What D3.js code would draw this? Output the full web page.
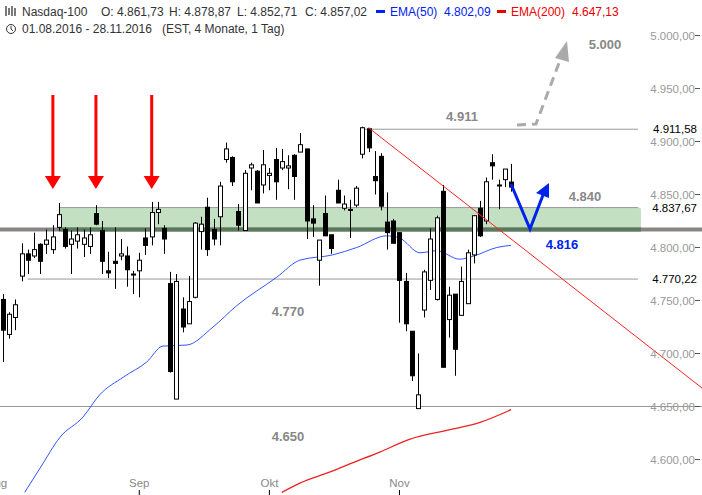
<!DOCTYPE html>
<html><head><meta charset="utf-8">
<script src="https://cdn.jsdelivr.net/npm/d3@7"></script>
<style>body{margin:0;background:#fff}svg{display:block;font-family:"Liberation Sans",Arial,sans-serif}</style>
</head><body><svg id="c" width="702" height="495"></svg>
<script>
// OHLC per trading day (01.08.2016 - 28.11.2016)
const opens=[4751,4718,4734,4773,4794,4792,4803,4803,4798,4819,4817,4803,4806,4803,4801,4832,4816,4778,4787,4792,4792,4775,4778,4809,4810,4833,4818,4766,4657,4742,4728,4753,4815,4838,4817,4829,4883,4885,4834,4816,4875,4872,4859,4868,4883,4875,4875,4887,4890,4893,4827,4788,4832,4812,4854,4837,4836,4840,4888,4912,4867,4886,4824,4825,4814,4768,4721,4648,4741,4769,4751,4853,4732,4756,4736,4747,4793,4837,4825,4880,4859,4864,4861.73];
const highs=[4756,4739,4751,4804,4798,4814,4804,4817,4821,4842,4819,4816,4819,4817,4819,4840,4825,4796,4819,4808,4801,4778,4795,4818,4843,4843,4821,4777,4775,4753,4773,4824,4829,4847,4827,4862,4899,4886,4841,4873,4880,4873,4892,4875,4894,4893,4887,4888,4908,4893,4840,4807,4849,4812,4864,4849,4845,4858,4914,4913,4891,4889,4852,4827,4814,4776,4721,4700,4779,4818,4830,4859,4763,4756,4782,4798,4830,4844,4866,4888,4864,4874,4878.87];
const lows=[4692,4714,4722,4768,4775,4790,4775,4794,4794,4816,4799,4775,4799,4791,4794,4821,4775,4771,4761,4788,4763,4756,4753,4793,4802,4822,4794,4682,4657,4720,4728,4752,4798,4792,4802,4802,4880,4858,4816,4816,4854,4842,4851,4854,4845,4873,4855,4845,4890,4808,4810,4764,4811,4794,4842,4835,4809,4838,4884,4890,4850,4835,4798,4804,4729,4721,4674,4648,4734,4760,4750,4687,4715,4679,4736,4747,4785,4810,4822,4864,4836,4857,4852.71];
const closes=[4722,4737,4746,4794,4788,4798,4787,4807,4810,4831,4801,4808,4812,4809,4812,4822,4787,4776,4785,4794,4779,4774,4788,4802,4833,4836,4808,4683,4768,4725,4749,4823,4822,4798,4808,4858,4893,4862,4821,4870,4878,4842,4878,4870,4862,4881,4877,4867,4897,4825,4823,4807,4811,4799,4842,4841,4835,4856,4913,4894,4863,4839,4814,4804,4769,4728,4679,4661,4777,4808,4828,4687,4755,4704,4768,4795,4830,4811,4862,4877,4858,4874,4857.02];
// EMA lines: [trading-day index, value]
const ema50=[[3.5,4569],[6,4592],[9.2,4621],[12.9,4640],[15.6,4661],[19.5,4678],[23.2,4692],[25.8,4707],[29.7,4708],[33.9,4725],[37.7,4745],[44.2,4772],[47.9,4788],[53.2,4793],[57.1,4800],[61.9,4811],[64,4809],[67.3,4795],[70,4797],[73.7,4789],[76,4792],[79.7,4800],[82,4802]];
const ema200=[[45,4569],[48,4578],[52.7,4588],[56.5,4597],[60.8,4607],[65.6,4619],[72,4628],[77,4635],[82,4647]];
const monthLabels=["ug","Sep","Okt","Nov"];
const monthIdx=[-0.35,22,43,64];
const yTicks=[5000,4950,4900,4850,4800,4750,4700,4650,4600];
const levels=[4911.58,4837.67,4770.22];

const svg=d3.select("#c");
const x=d3.scaleLinear().domain([0,82]).range([3,511]);
const y=d3.scaleLinear().domain([4600,5000]).range([459.5,35.5]);
const fmt=v=>d3.format(",.2f")(v).replace(/,/g,"#").replace(".",",").replace(/#/g,".");

svg.append("rect").attr("x",x(9)).attr("y",y(4837.67)).attr("width",641-x(9)).attr("height",y(4817)-y(4837.67))
 .attr("fill","#c3e0c3").attr("rx",2);
svg.append("line").attr("x1",x(9)).attr("x2",638).attr("y1",y(4837.67)).attr("y2",y(4837.67)).attr("stroke","#999");
svg.append("line").attr("x1",x(58)).attr("x2",638).attr("y1",y(4911.58)).attr("y2",y(4911.58)).attr("stroke","#999");
svg.append("line").attr("x1",x(4)).attr("x2",638).attr("y1",y(4770.22)).attr("y2",y(4770.22)).attr("stroke","#999");
svg.append("line").attr("x1",0).attr("x2",702).attr("y1",y(4650)).attr("y2",y(4650)).attr("stroke","#999");
svg.append("line").attr("x1",0).attr("x2",702).attr("y1",y(4817)).attr("y2",y(4817)).attr("stroke","#8a8585").attr("stroke-width",4);
svg.append("line").attr("x1",x(9)).attr("x2",641).attr("y1",y(4817)).attr("y2",y(4817)).attr("stroke","#5b7a5b").attr("stroke-width",4);

const ln=d3.line().x(d=>x(d[0])).y(d=>y(d[1])).curve(d3.curveMonotoneX);
svg.append("path").attr("d",ln(ema50)).attr("fill","none").attr("stroke","#3355ff").attr("stroke-width",1);
svg.append("path").attr("d",ln(ema200)).attr("fill","none").attr("stroke","#ee2222").attr("stroke-width",1.3);

const g=svg.append("g");
opens.forEach((o,i)=>{
  const c=closes[i],cx=Math.round(x(i))+0.5;
  g.append("line").attr("x1",cx).attr("x2",cx).attr("y1",y(highs[i])).attr("y2",y(lows[i])).attr("stroke","#000");
  const t=y(Math.max(o,c)),b=y(Math.min(o,c));
  g.append("rect").attr("x",cx-2).attr("y",t).attr("width",4).attr("height",Math.max(1,b-t))
   .attr("fill",c>=o?"#fff":"#000").attr("stroke","#000").attr("stroke-width",1);
});

svg.append("line").attr("x1",x(59)).attr("y1",y(4913)).attr("x2",702).attr("y2",388).attr("stroke","#ff2020").attr("stroke-width",1);

[8.05,15,24].forEach(i=>{
  const ax=x(i);
  svg.append("line").attr("x1",ax).attr("x2",ax).attr("y1",95).attr("y2",177).attr("stroke","#f00").attr("stroke-width",3);
  svg.append("path").attr("d",`M${ax-8},176L${ax+8},176L${ax},189Z`).attr("fill","#f00");
});
svg.append("path").attr("d","M517,125L536,124L562,55").attr("fill","none").attr("stroke","#aaa").attr("stroke-width",3).attr("stroke-dasharray","9,6");
svg.append("path").attr("d","M567,41L555,58L569,62Z").attr("fill","#aaa");
svg.append("path").attr("d","M511,184L530,229L543,195").attr("fill","none").attr("stroke","#0022ee").attr("stroke-width",3);
svg.append("path").attr("d","M549,183L536,193L549,198Z").attr("fill","#0022ee");

const ann=[["4.911",462,121,"#888"],["4.840",585,201,"#888"],["4.770",288,316,"#888"],["4.650",288,441,"#888"],["5.000",605,49,"#888"],["4.816",562,249,"#0022ee"]];
ann.forEach(a=>svg.append("text").attr("x",a[1]).attr("y",a[2]).attr("text-anchor","middle").attr("font-size",13).attr("font-weight","bold").attr("fill",a[3]).text(a[0]));

yTicks.forEach(v=>{
  svg.append("text").attr("x",695).attr("y",y(v)+4).attr("text-anchor","end").attr("font-size",11.5).attr("fill","#999").text(fmt(v));
  svg.append("line").attr("x1",695).attr("x2",700).attr("y1",y(v)).attr("y2",y(v)).attr("stroke","#555");
});
levels.forEach(v=>{
  svg.append("rect").attr("x",646).attr("y",y(v)-7).attr("width",54).attr("height",13).attr("fill","#fff");
  svg.append("text").attr("x",697).attr("y",y(v)+4).attr("text-anchor","end").attr("font-size",11.5).attr("fill","#000").text(fmt(v));
});
monthIdx.forEach((m,i)=>{
  svg.append("text").attr("x",x(m)).attr("y",487).attr("text-anchor","middle").attr("font-size",11.5).attr("fill","#888").text(monthLabels[i]);
  if(i>0) svg.append("line").attr("x1",x(m)).attr("x2",x(m)).attr("y1",490).attr("y2",495).attr("stroke","#000");
});

const h=svg.append("g").attr("font-size",12).attr("fill","#333");
["M6,6V16","M9,8V15","M12,6V16","M15,8V16"].forEach(d=>h.append("path").attr("d",d).attr("stroke","#333").attr("stroke-width",1.3));
const parts=[["Nasdaq-100",22,"#333"],["O: 4.861,73",101,"#333"],["H: 4.878,87",169,"#333"],["L: 4.852,71",237,"#333"],["C: 4.857,02",305,"#333"],
 ["EMA(50)",390,"#0022ee"],["4.802,09",444,"#0022ee"],["EMA(200)",511,"#ee0000"],["4.647,13",572,"#ee0000"]];
parts.forEach(p=>h.append("text").attr("x",p[1]).attr("y",16).attr("fill",p[2]).text(p[0]));
h.append("rect").attr("x",376).attr("y",10).attr("width",9).attr("height",3).attr("fill","#0022ee");
h.append("rect").attr("x",497).attr("y",10).attr("width",9).attr("height",3).attr("fill","#ee0000");
h.append("circle").attr("cx",11).attr("cy",29).attr("r",4.5).attr("fill","none").attr("stroke","#333");
h.append("path").attr("d","M11,26L11,29L13,31").attr("fill","none").attr("stroke","#333");
h.append("text").attr("x",22).attr("y",33).text("01.08.2016 - 28.11.2016   (EST, 4 Monate, 1 Tag)").style("white-space","pre");
</script></body></html>
